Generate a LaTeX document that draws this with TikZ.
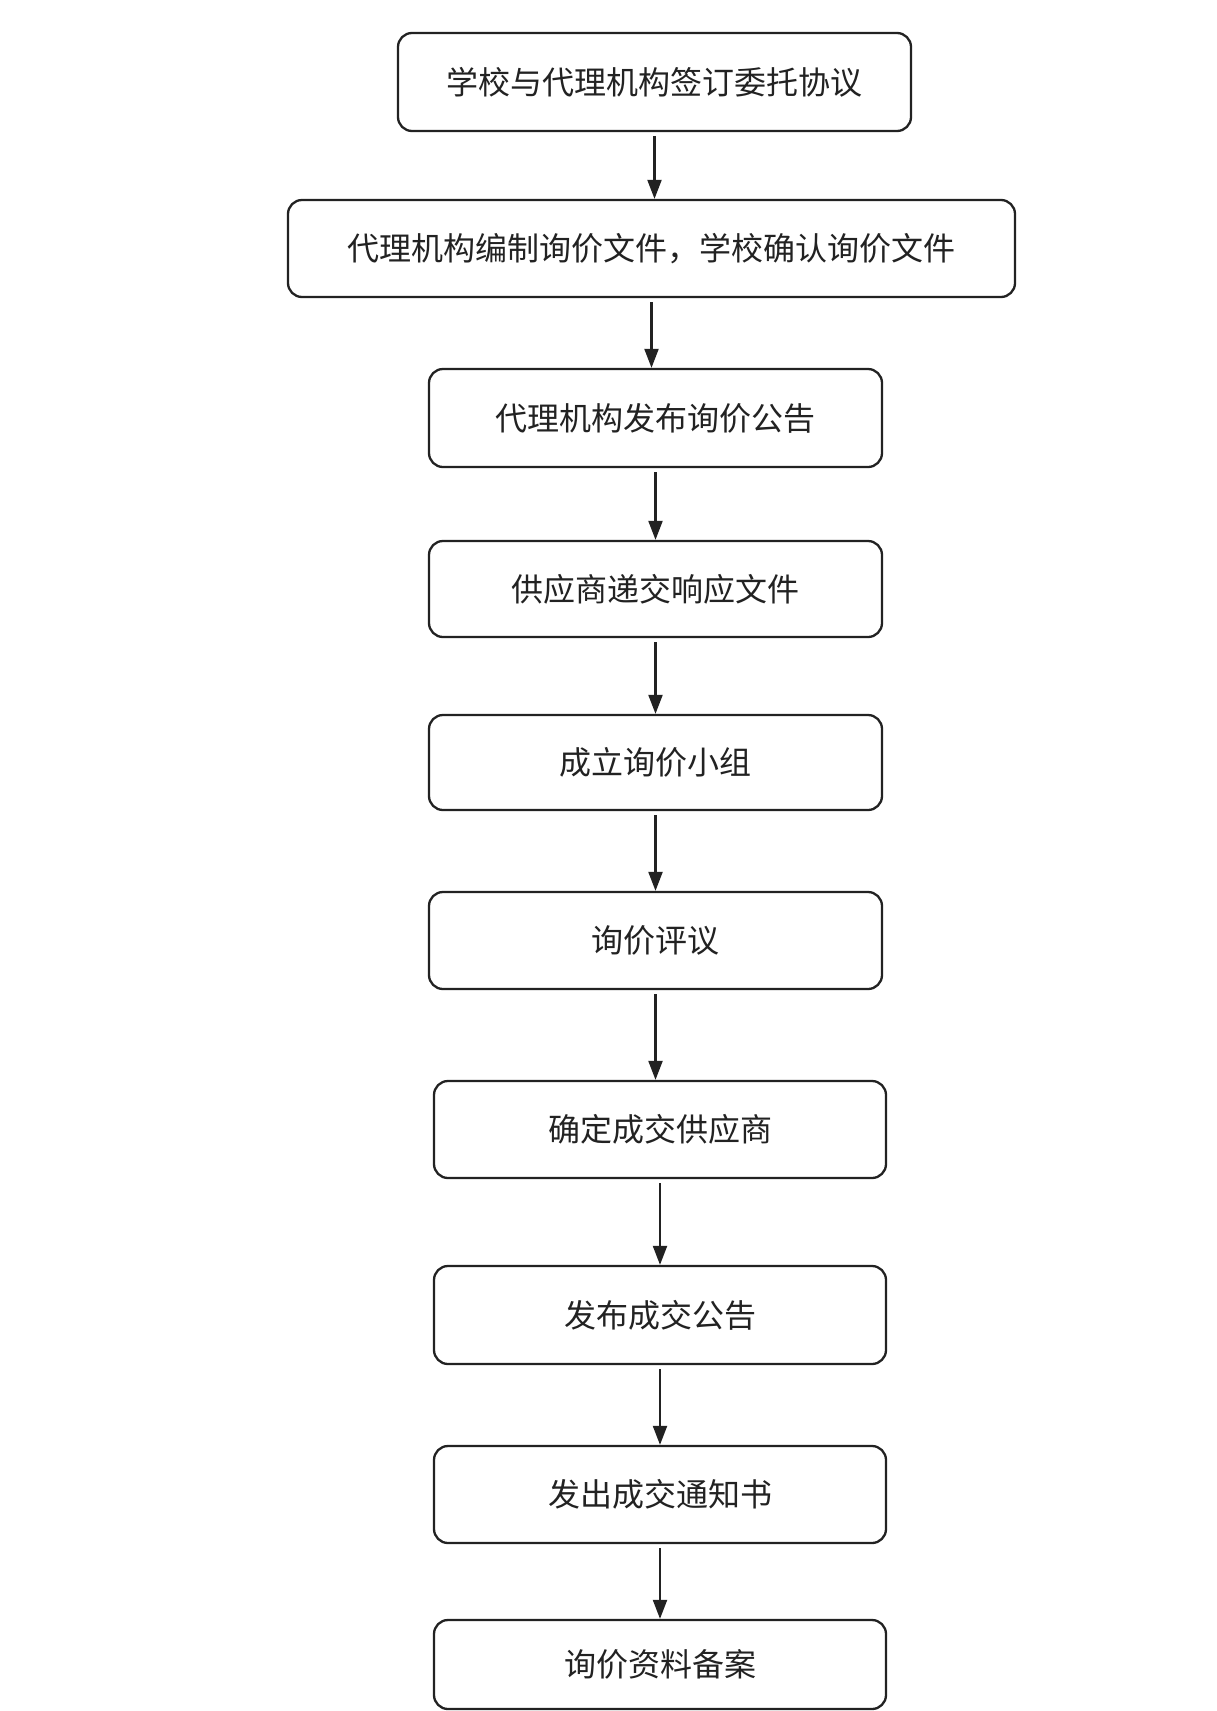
\documentclass[tikz,border=0pt]{standalone}
\usepackage{fontspec}
\newfontfamily\cjk{Noto Sans CJK SC}
\usetikzlibrary{arrows.meta}
\definecolor{ink}{HTML}{222222}
\begin{document}
\begin{tikzpicture}[x=1pt,y=-1pt,
  box/.style={draw=ink, line width=2.3pt, rounded corners=14pt, text=ink,
    font=\cjk\fontsize{32}{35}\selectfont, inner sep=0pt, align=center},
  arr/.style={draw=ink, line width=2.1pt, shorten <=4pt, -{Triangle[length=19pt,width=14pt]}}]
\fill[white] (0,0) rectangle (1216,1711);
\useasboundingbox (0,0) rectangle (1216,1711);
\node[box, minimum width=513pt, minimum height=98pt] (b1) at (654.5,82) {学校与代理机构签订委托协议};
\node[box, minimum width=727pt, minimum height=97pt] (b2) at (651.5,248.5) {代理机构编制询价文件，学校确认询价文件};
\node[box, minimum width=453pt, minimum height=98pt] (b3) at (655.5,418) {代理机构发布询价公告};
\node[box, minimum width=453pt, minimum height=96pt] (b4) at (655.5,589) {供应商递交响应文件};
\node[box, minimum width=453pt, minimum height=95pt] (b5) at (655.5,762.5) {成立询价小组};
\node[box, minimum width=453pt, minimum height=97pt] (b6) at (655.5,940.5) {询价评议};
\node[box, minimum width=452pt, minimum height=97pt] (b7) at (660,1129.5) {确定成交供应商};
\node[box, minimum width=452pt, minimum height=98pt] (b8) at (660,1315) {发布成交公告};
\node[box, minimum width=452pt, minimum height=97pt] (b9) at (660,1494.5) {发出成交通知书};
\node[box, minimum width=452pt, minimum height=89pt] (b10) at (660,1664.5) {询价资料备案};
\draw[arr] (b1.south) -- (b1.south |- b2.north);
\draw[arr] (b2.south) -- (b2.south |- b3.north);
\draw[arr] (b3.south) -- (b3.south |- b4.north);
\draw[arr] (b4.south) -- (b4.south |- b5.north);
\draw[arr] (b5.south) -- (b5.south |- b6.north);
\draw[arr] (b6.south) -- (b6.south |- b7.north);
\draw[arr] (b7.south) -- (b7.south |- b8.north);
\draw[arr] (b8.south) -- (b8.south |- b9.north);
\draw[arr] (b9.south) -- (b9.south |- b10.north);
\end{tikzpicture}
\end{document}
